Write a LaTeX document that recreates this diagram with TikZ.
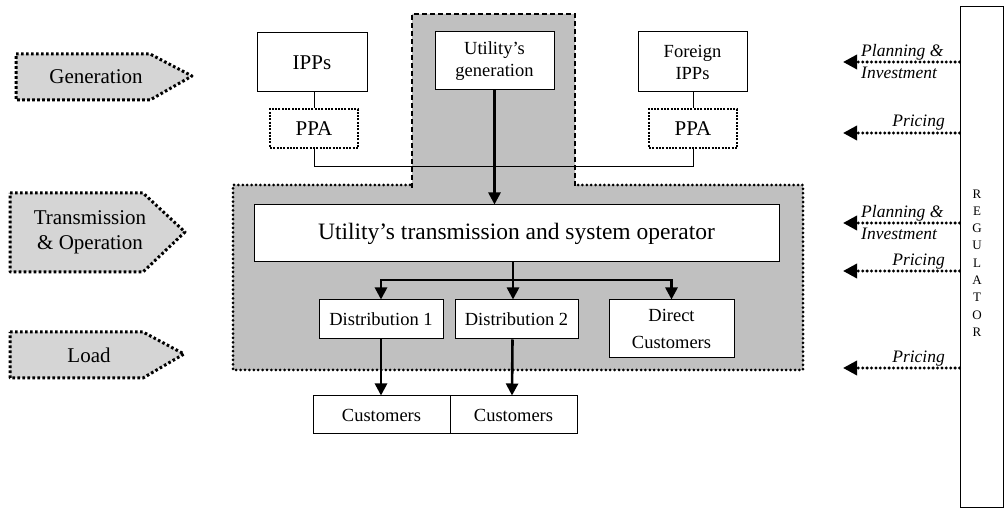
\documentclass[tikz,border=0pt]{standalone}
\usepackage{fontspec}
\setmainfont{Liberation Serif}
\usetikzlibrary{arrows.meta}
\definecolor{regiongray}{RGB}{192,192,192}
\definecolor{sidegray}{RGB}{213,213,213}
\begin{document}
\begin{tikzpicture}[x=1pt,y=-1pt,
  box/.style={draw, line width=1pt, fill=white, inner sep=0pt, align=center, font=\fontsize{18.5}{22}\selectfont},
  bigbox/.style={box, font=\fontsize{21}{25}\selectfont},
  ppabox/.style={draw, line width=2pt, dash pattern=on 2pt off 1.3pt, fill=white, inner sep=0pt, font=\fontsize{21}{25}\selectfont},
  sidebox/.style={draw, line width=3pt, dash pattern=on 2.6pt off 2.4pt, fill=sidegray, line join=round},
  sidetext/.style={align=center, inner sep=0pt, font=\fontsize{21}{25}\selectfont},
  regiondots/.style={line width=3pt, dash pattern=on 0pt off 4.4pt, line cap=round},
  regiondash/.style={line width=2pt, dash pattern=on 5pt off 3pt},
  thinline/.style={line width=1pt},
  thickarrow/.style={line width=2.6pt, -{Triangle[width=12pt,length=12pt]}},
  regarrow/.style={line width=3.3pt, dash pattern=on 0pt off 4.4pt, line cap=round, -{Triangle[width=14pt,length=14pt]}},
  reglabel/.style={inner sep=0pt, font=\fontsize{17.5}{21}\selectfont\itshape}
]
\useasboundingbox (0,0) rectangle (1005,510);

% side pentagons
\draw[sidebox] (16,54) -- (150,54) -- (192,76) -- (150,100) -- (16,100) -- cycle;
\node[sidetext] (gen) at (96,77) {Generation};
\draw[sidebox] (10,193) -- (143,193) -- (185,232) -- (143,272) -- (10,272) -- cycle;
\node[sidetext] (trop) at (90,232) {Transmission\\ \& Operation};
\draw[sidebox] (10,332) -- (143,332) -- (184,354) -- (143,378) -- (10,378) -- cycle;
\node[sidetext] (load) at (89,355) {Load};

% gray utility region
\fill[regiongray] (233,185) -- (412,185) -- (412,14) -- (575,14) -- (575,185) -- (803,185) -- (803,370) -- (233,370) -- cycle;
\draw[regiondots] (410,185) -- (233,185) -- (233,370) -- (803,370) -- (803,185) -- (577,185);
\draw[regiondash] (412,188) -- (412,14) -- (575,14) -- (575,188);

% generation side
\node[bigbox, minimum width=110, minimum height=59] (ipps) at (312,62.5) {IPPs};
\node[box, minimum width=119, minimum height=58] (ugen) at (494.5,61) {Utility’s\\generation};
\node[box, minimum width=109, minimum height=60] (fipps) at (692.5,62) {Foreign\\IPPs};
\node[ppabox, minimum width=88, minimum height=39] (ppa1) at (314,128.5) {PPA};
\node[ppabox, minimum width=88, minimum height=39] (ppa2) at (693,128.5) {PPA};
\draw[thinline] (ipps.south -| ppa1.north) -- (ppa1.north);
\draw[thinline] (fipps.south -| ppa2.north) -- (ppa2.north);
\draw[thinline] (ppa1.south) -- ++(0,18) -| (ppa2.south);

% transmission
\node[box, minimum width=525, minimum height=57, font=\fontsize{23.5}{28}\selectfont] (trans) at (516.5,233.5) {Utility’s transmission and system operator};
\draw[thickarrow] (ugen.south) -- (ugen.south |- trans.north);

% distribution
\node[box, minimum width=124, minimum height=39] (d1) at (381,319.5) {Distribution 1};
\node[box, minimum width=123, minimum height=39] (d2) at (516.5,319.5) {Distribution 2};
\node[box, minimum width=125, minimum height=58, font=\fontsize{18.5}{27}\selectfont] (dc) at (671.5,329) {Direct\\Customers};
\coordinate (br) at (513,280);
\draw[thickarrow] (trans.south -| br) -- (br |- d2.north);
\draw[line width=2.6pt, {Triangle[width=12pt,length=12pt]}-{Triangle[width=12pt,length=12pt]}] (d1.north) |- (br) -| (dc.north);

% customers
\node[box, minimum width=137, minimum height=38] (c1) at (381.5,415) {Customers};
\node[box, minimum width=127, minimum height=38] (c2) at (513.5,415) {Customers};
\draw[thickarrow] (d1.south) -- (d1.south |- c1.north);
\draw[thickarrow] ([xshift=-4pt]d2.south) -- ([xshift=-1.5pt]c2.north);

% regulator
\node[draw, line width=1pt, inner sep=0pt, minimum width=43, minimum height=501] (reg) at (981.5,257.5) {};
\node[align=center, inner sep=0pt, font=\fontsize{13}{17.3}\selectfont] (regtext) at (977,263) {R\\E\\G\\U\\L\\A\\T\\O\\R};

\coordinate (a1) at (843,62);
\coordinate (a2) at (843,133);
\coordinate (a3) at (843,223);
\coordinate (a4) at (843,271);
\coordinate (a5) at (843,368);
\draw[regarrow] (reg.west |- a1) -- (a1);
\draw[regarrow] (reg.west |- a2) -- (a2);
\draw[regarrow] (reg.west |- a3) -- (a3);
\draw[regarrow] (reg.west |- a4) -- (a4);
\draw[regarrow] (reg.west |- a5) -- (a5);
\node[reglabel, anchor=base west] (l1a) at (861,57) {Planning \&};
\node[reglabel, anchor=base west] (l1b) at (861,78.5) {Investment};
\node[reglabel, anchor=base east] (l2) at (945,127) {Pricing};
\node[reglabel, anchor=base west] (l3a) at (861,218) {Planning \&};
\node[reglabel, anchor=base west] (l3b) at (861,239.5) {Investment};
\node[reglabel, anchor=base east] (l4) at (945,266) {Pricing};
\node[reglabel, anchor=base east] (l5) at (945,363) {Pricing};
\end{tikzpicture}
\end{document}
